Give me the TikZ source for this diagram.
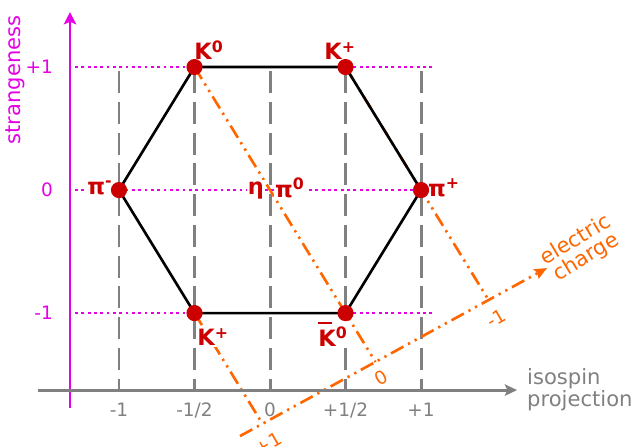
\documentclass[tikz,border=0pt]{standalone}
\usepackage{fontspec}
\setmainfont{DejaVu Sans}
\usetikzlibrary{arrows.meta,calc}

\definecolor{strmag}{RGB}{230,0,230}
\definecolor{isogray}{RGB}{128,128,128}
\definecolor{chorange}{RGB}{255,102,0}
\definecolor{partred}{RGB}{204,0,0}

\tikzset{
  particle/.style={circle,fill=partred,inner sep=0pt,minimum size=9.2pt},
  plabel/.style={text=partred,font=\bfseries\fontsize{12.8}{13}\selectfont,fill=white,inner sep=0.6pt},
  isoline/.style={isogray,line width=1.7pt,dash pattern=on 12.5pt off 5pt},
  strline/.style={strmag,line width=1.6pt,dash pattern=on 1.6pt off 2pt},
  chline/.style={chorange,line width=1.5pt,dash pattern=on 8pt off 3pt on 1.3pt off 3pt on 1.3pt off 3pt},
  hexline/.style={black,line width=1.5pt},
  ticklbl/.style={font=\fontsize{10.5}{12}\selectfont},
  axlabel/.style={font=\fontsize{12}{11.5}\selectfont},
}

\begin{document}
\begin{tikzpicture}[x=3.02cm,y=2.46cm]
  \useasboundingbox (-1.788,-2.081) rectangle (2.397,1.545);
  % particle positions (isospin, strangeness)
  \coordinate (k0) at (-0.5,1);
  \coordinate (kpt) at (0.5,1);
  \coordinate (pim) at (-1,0);
  \coordinate (pip) at (1,0);
  \coordinate (kpb) at (-0.5,-1);
  \coordinate (kb0) at (0.5,-1);
  \coordinate (kpbx) at ($(kpb)+(1,-2)$);
  % charge axis ends
  \coordinate (cha) at (-0.199,-2.0);
  \coordinate (chb) at (1.834,-0.634);
  \coordinate (qp) at (intersection of kpb--kpbx and cha--chb);
  \coordinate (qz) at (intersection of k0--kb0 and cha--chb);
  \coordinate (qm) at (intersection of kpt--pip and cha--chb);

  % isospin grid
  \foreach \i in {-1,-0.5,0,0.5,1}
    \draw[isoline] (\i,0.967) -- (\i,-1.626);
  % strangeness levels
  \foreach \s in {-1,0,1}
    \draw[strline] (-1.291,\s) -- (1.093,\s);

  % charge lines
  \draw[chline] (kpb) -- (qp);
  \draw[chline] (k0) -- (qz);
  \draw[chline] (kpt) -- (qm);
  \draw[chline,-{Stealth[length=7pt,width=6pt,inset=1pt]}] (cha) -- (chb);

  % axes
  \draw[strmag,line width=1.7pt,-{Stealth[length=7pt,width=7pt,inset=1.5pt]}] (-1.3245,-1.772) -- (-1.3245,1.447);
  \draw[isogray,line width=1.7pt,-{Stealth[length=7pt,width=6.5pt,inset=1.5pt]}] (-1.536,-1.626) -- (1.636,-1.626);

  % octet
  \draw[hexline] (k0) -- (kpt) -- (pip) -- (kb0) -- (kpb) -- (pim) -- cycle;

  % particle names
  \node[plabel] (k0l) at (-0.404,1.138) {K\textsuperscript{0}};
  \node[plabel] (kptl) at (0.464,1.130) {K\textsuperscript{+}};
  \node[plabel] (piml) at (-1.126,0.016) {π\textsuperscript{-}};
  \node[plabel] (pipl) at (1.152,0.016) {π\textsuperscript{+}};
  \node[plabel] (etal) at (-0.093,0) {η};
  \node[plabel] (pi0l) at (0.132,0.016) {π\textsuperscript{0}};
  \node[plabel] (kpbl) at (-0.377,-1.195) {K\textsuperscript{+}};
  \node[plabel] (kb0l) at (0.417,-1.17) {\makebox[0pt][l]{\rule[12.5pt]{8pt}{1.3pt}}K\textsuperscript{0}};

  \foreach \p in {k0,kpt,pim,pip,kpb,kb0}
    \node[particle] (dot\p) at (\p) {};

  % strangeness axis labels
  \node[axlabel,text=strmag,rotate=90] (strl) at (-1.689,0.894) {strangeness};
  \node[ticklbl,text=strmag,anchor=east] (sp1) at (-1.397,1) {+1};
  \node[ticklbl,text=strmag,anchor=east] (s0) at (-1.397,0) {0};
  \node[ticklbl,text=strmag,anchor=east] (sm1) at (-1.397,-1) {-1};

  % isospin axis labels
  \foreach \i/\t [count=\n] in {-1/{-1},-0.5/{-1/2},0/{0},0.5/{+1/2},1/{+1}}
    \node[ticklbl,text=isogray] (iso\n) at (\i,-1.789) {\t};
  \node[axlabel,text=isogray,anchor=west,align=left] (isol) at (1.662,-1.626) {isospin\\projection};

  % charge labels
  \node[ticklbl,text=chorange,rotate=30] (qpl) at (-0.013,-2.061) {+1};
  \node[ticklbl,text=chorange,rotate=30] (qzl) at (0.735,-1.528) {0};
  \node[ticklbl,text=chorange,rotate=30] (qml) at (1.497,-1.041) {-1};
  \node[axlabel,text=chorange,rotate=31,align=center] (chl) at (2.060,-0.480) {electric\\charge};
\end{tikzpicture}
\end{document}
